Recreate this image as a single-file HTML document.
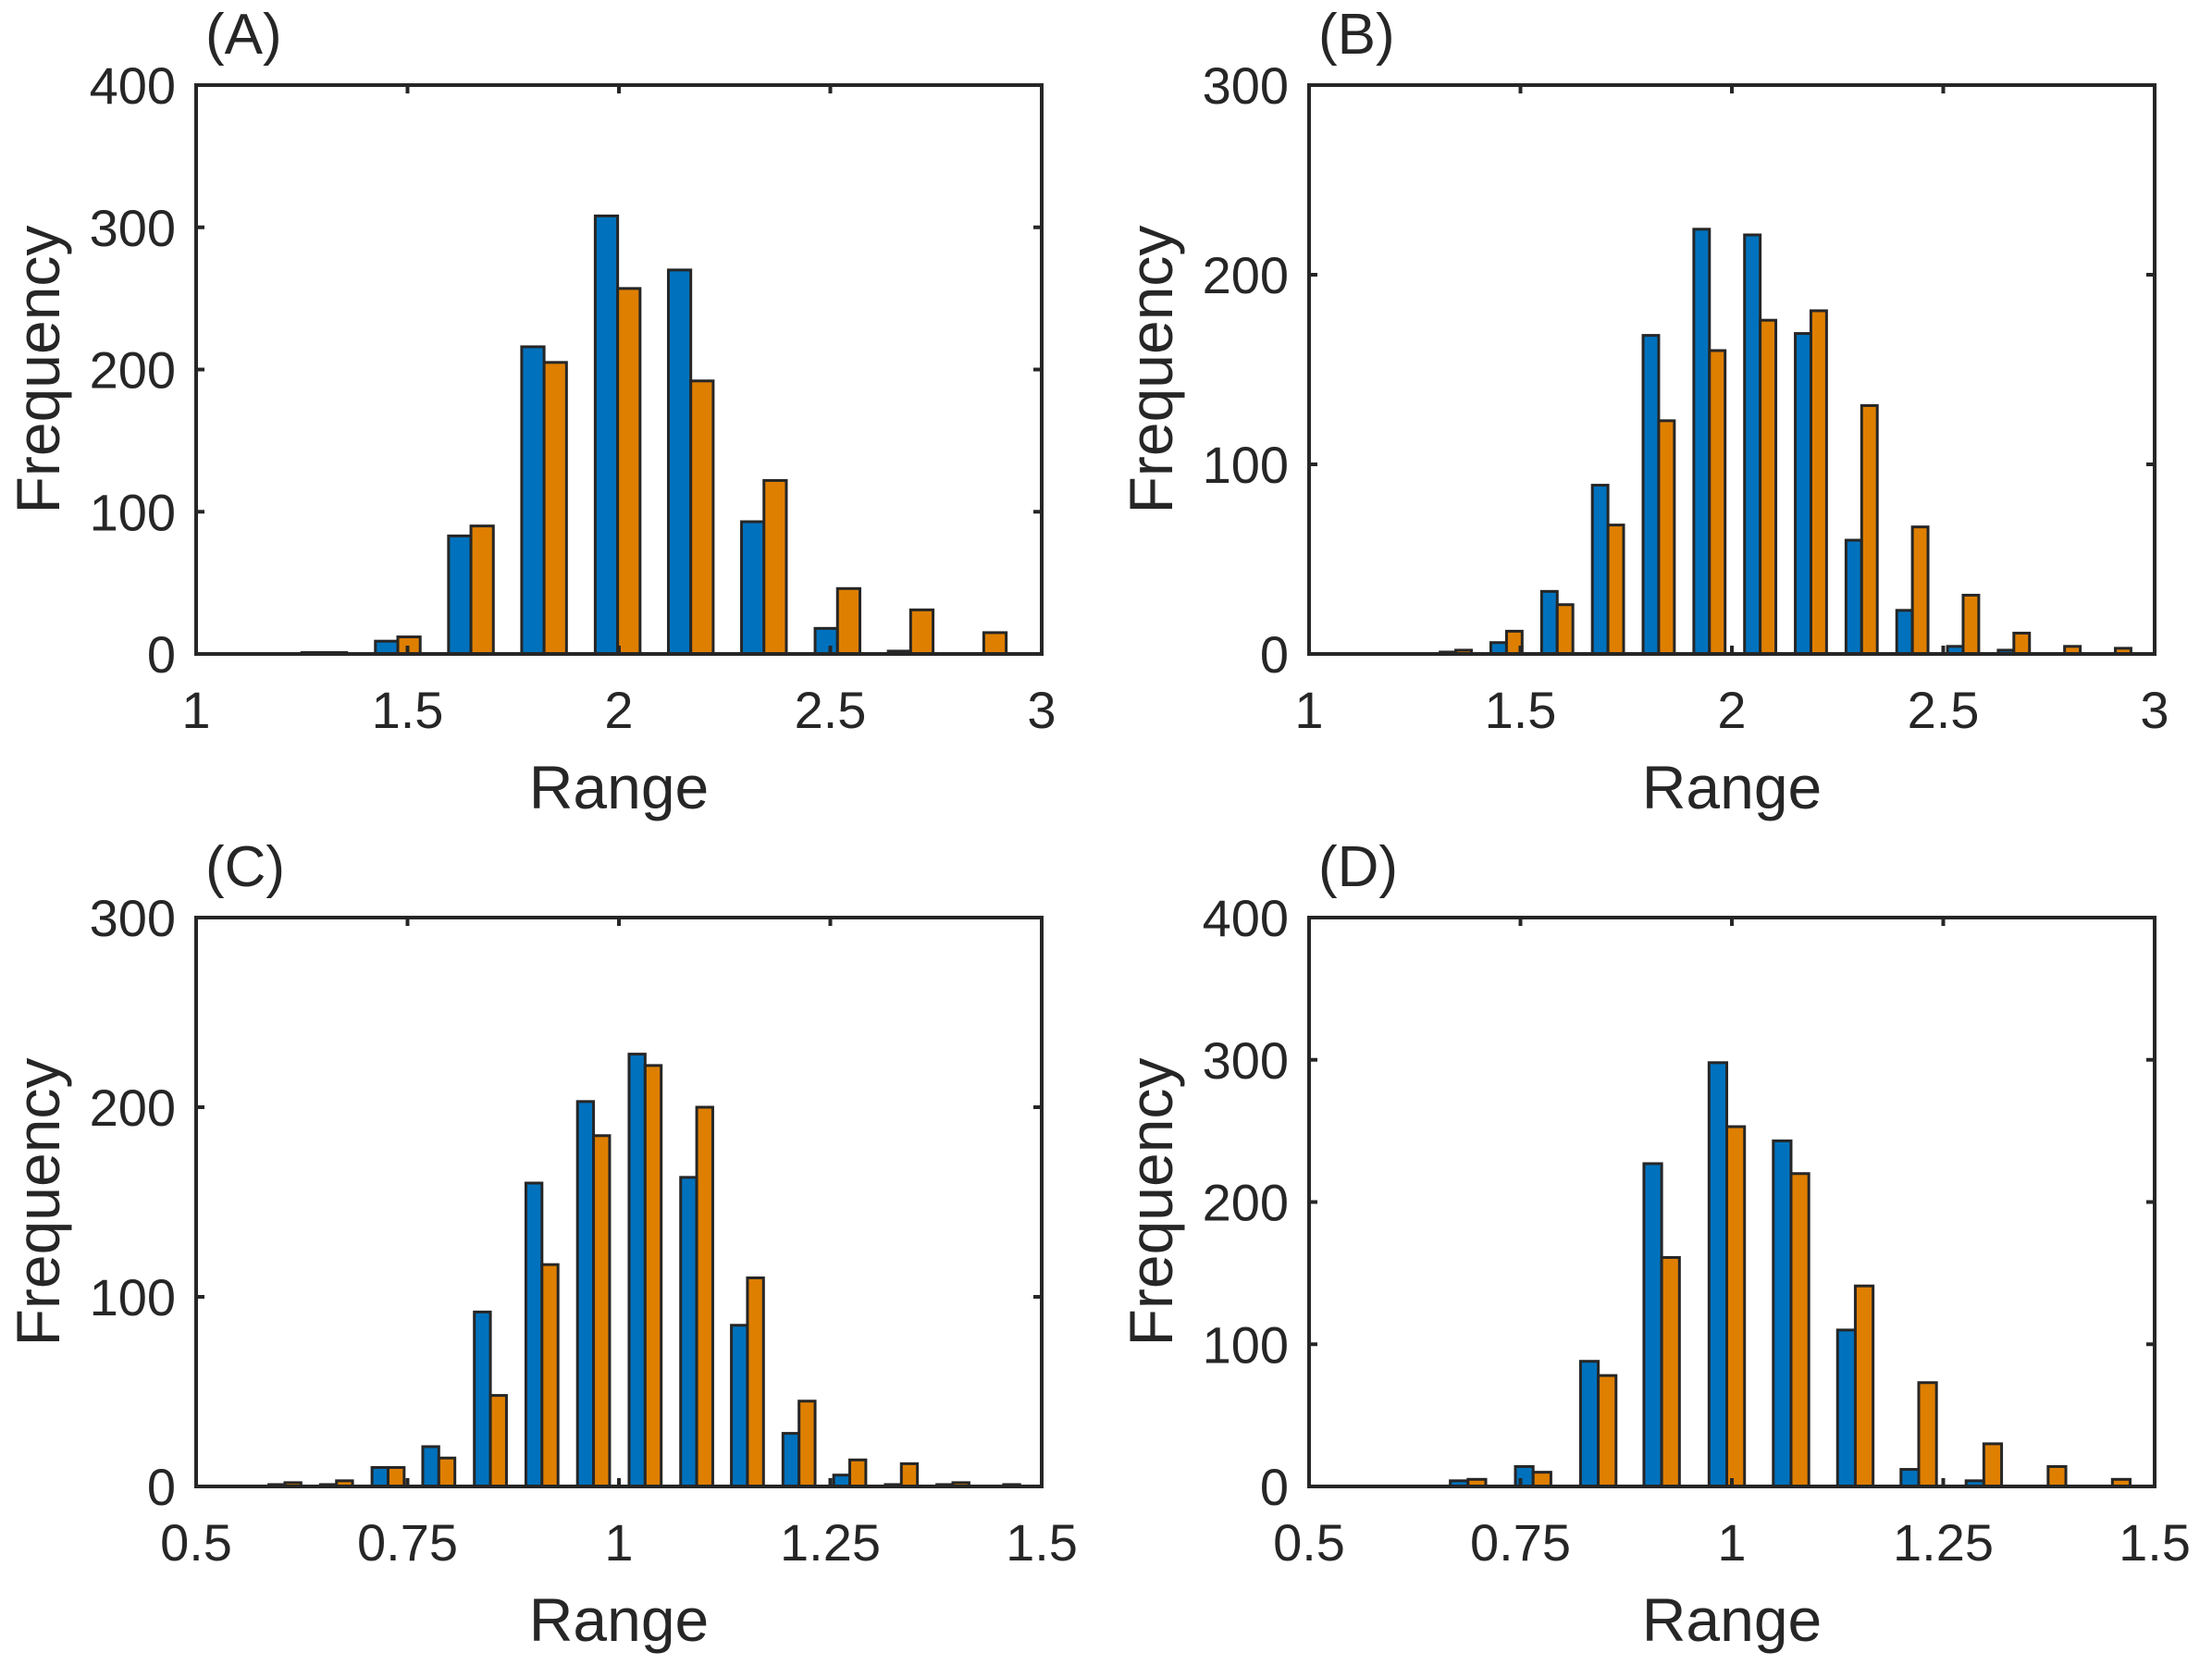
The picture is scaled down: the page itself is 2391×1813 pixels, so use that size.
<!DOCTYPE html>
<html><head><meta charset="utf-8"><style>
html,body{margin:0;padding:0;background:#fff}
svg{display:block}
text{font-family:"Liberation Sans",sans-serif;fill:#262626}
</style></head><body>
<svg id="fig" width="2391" height="1813" viewBox="0 0 2391 1813" xmlns="http://www.w3.org/2000/svg"></svg>
<script>
// Panel A
const aCenters=[1.303,1.477,1.65,1.823,1.997,2.17,2.343,2.517,2.69,2.863];
const aBlue=[1,9,83,216,308,270,93,18,2,0];
const aOrange=[1,12,90,205,257,192,122,46,31,15];
const aXTicks=[1,1.5,2,2.5,3];
const aXTickLabels=["1","1.5","2","2.5","3"];
const aYTicks=[0,100,200,300,400];
// Panel B
const bCenters=[1.347,1.467,1.587,1.707,1.827,1.947,2.067,2.187,2.307,2.427,2.547,2.667,2.787,2.907];
const bBlue=[1,6,33,89,168,224,221,169,60,23,4,2,0,0];
const bOrange=[2,12,26,68,123,160,176,181,131,67,31,11,4,3];
const bXTicks=[1,1.5,2,2.5,3];
const bXTickLabels=["1","1.5","2","2.5","3"];
const bYTicks=[0,100,200,300];
// Panel C
const cCenters=[0.605,0.666,0.727,0.787,0.848,0.909,0.970,1.031,1.092,1.152,1.213,1.273,1.334,1.395,1.455];
const cBlue=[1,1,10,21,92,160,203,228,163,85,28,6,1,1,0];
const cOrange=[2,3,10,15,48,117,185,222,200,110,45,14,12,2,1];
const cXTicks=[0.5,0.75,1,1.25,1.5];
const cXTickLabels=["0.5","0.75","1","1.25","1.5"];
const cYTicks=[0,100,200,300];
// Panel D
const dCenters=[0.688,0.765,0.842,0.917,0.994,1.070,1.146,1.221,1.298,1.374,1.450];
const dBlue=[4,14,88,227,298,243,110,12,4,0,0];
const dOrange=[5,10,78,161,253,220,141,73,30,14,5];
const dXTicks=[0.5,0.75,1,1.25,1.5];
const dXTickLabels=["0.5","0.75","1","1.25","1.5"];
const dYTicks=[0,100,200,300,400];

const NS="http://www.w3.org/2000/svg";
const svg=document.getElementById('fig');
function mk(tag,attrs,parent){const e=document.createElementNS(NS,tag);for(const k in attrs)e.setAttribute(k,attrs[k]);parent.appendChild(e);return e;}

function panel(o){
  const g=mk('g',{},svg);
  
  
  const L=o.left,T=o.top,W=914,H=615;
  const xs=v=>L+(v-o.xmin)/(o.xmax-o.xmin)*W;
  const ys=v=>T+H-(v-o.ymin)/(o.ymax-o.ymin)*H;
  for(let i=0;i<o.centers.length;i++){
    const c=o.centers[i];
    const bv=o.blue[i], ov=o.orange[i];
    if(bv>0){
      const r=mk('rect',{x:xs(c-o.bw),y:ys(bv),width:xs(c)-xs(c-o.bw),height:ys(0)-ys(bv),fill:'#0072BD',stroke:'#262626','stroke-width':3},g);
      
      
    }
    if(ov>0){
      const r=mk('rect',{x:xs(c),y:ys(ov),width:xs(c+o.bw)-xs(c),height:ys(0)-ys(ov),fill:'#DF7F00',stroke:'#262626','stroke-width':3},g);
      
      
    }
  }
  const box=mk('rect',{x:L,y:T,width:W,height:H,fill:'none',stroke:'#262626','stroke-width':4},g);
  
  
  o.xticks.forEach((v,i)=>{
    const x=xs(v);
    mk('line',{x1:x,y1:T+H,x2:x,y2:T+H-9,stroke:'#262626','stroke-width':4},g);
    mk('line',{x1:x,y1:T,x2:x,y2:T+9,stroke:'#262626','stroke-width':4},g);
    const t=mk('text',{x:x,y:T+H+80,'font-size':56,'text-anchor':'middle'},g);
    t.textContent=o.xlabels[i];
    
    
  });
  o.yticks.forEach(v=>{
    const y=ys(v);
    mk('line',{x1:L,y1:y,x2:L+9,y2:y,stroke:'#262626','stroke-width':4},g);
    mk('line',{x1:L+W,y1:y,x2:L+W-9,y2:y,stroke:'#262626','stroke-width':4},g);
    const t=mk('text',{x:L-22,y:y+20,'font-size':56,'text-anchor':'end'},g);
    t.textContent=String(v);
    
    
  });
  const xl=mk('text',{x:L+W/2,y:T+H+167,'font-size':66,'text-anchor':'middle'},g);
  xl.textContent='Range';
  
  
  const cy=T+H/2, cx=L-148;
  const yl=mk('text',{x:cx,y:cy,'font-size':66,'text-anchor':'middle',transform:`rotate(-90 ${cx} ${cy})`},g);
  yl.textContent='Frequency';
  
  
  const pl=mk('text',{x:L+10,y:T-34,'font-size':62},g);
  pl.textContent='('+o.id+')';
  
  
}
panel({id:'A',left:212,top:92,xmin:1,xmax:3,ymin:0,ymax:400,centers:aCenters,blue:aBlue,orange:aOrange,bw:0.053,xticks:aXTicks,xlabels:aXTickLabels,yticks:aYTicks});
panel({id:'B',left:1415,top:92,xmin:1,xmax:3,ymin:0,ymax:300,centers:bCenters,blue:bBlue,orange:bOrange,bw:0.037,xticks:bXTicks,xlabels:bXTickLabels,yticks:bYTicks});
panel({id:'C',left:212,top:992,xmin:0.5,xmax:1.5,ymin:0,ymax:300,centers:cCenters,blue:cBlue,orange:cOrange,bw:0.019,xticks:cXTicks,xlabels:cXTickLabels,yticks:cYTicks});
panel({id:'D',left:1415,top:992,xmin:0.5,xmax:1.5,ymin:0,ymax:400,centers:dCenters,blue:dBlue,orange:dOrange,bw:0.021,xticks:dXTicks,xlabels:dXTickLabels,yticks:dYTicks});
</script>
</body></html>
